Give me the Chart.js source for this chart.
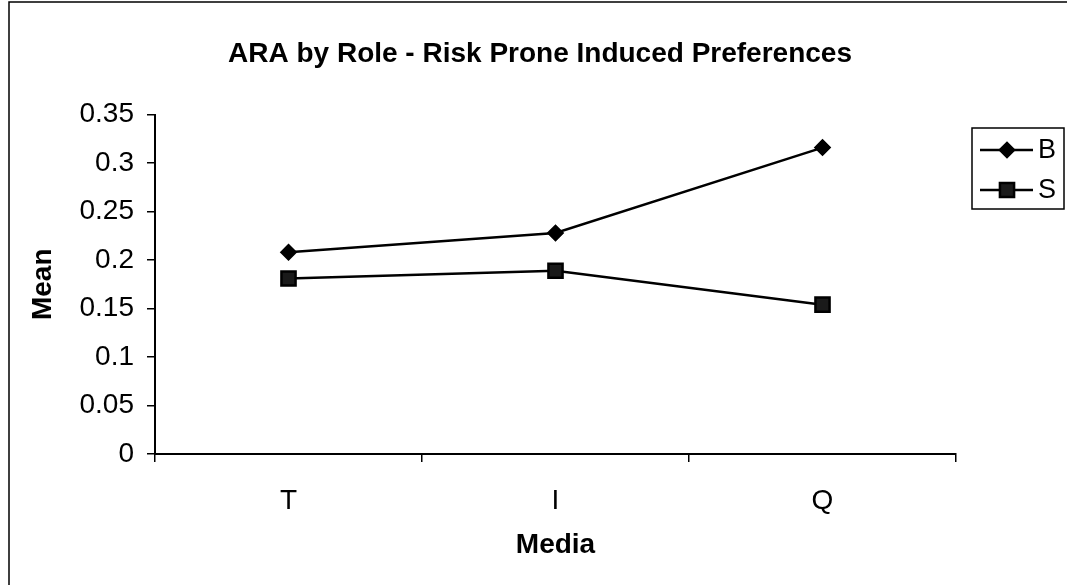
<!DOCTYPE html>
<html>
<head>
<meta charset="utf-8">
<title>ARA by Role</title>
<script src="https://cdn.jsdelivr.net/npm/chart.js@4"></script>
<style>
    html, body {margin: 0; padding: 0; background: #fff;}
    canvas {display: block;}
</style>
</head>
<body>
<canvas id="myChart" width="1067" height="585"></canvas>
<script>
const media = ['T', 'I', 'Q'];
const meanB = [0.208, 0.228, 0.316];
const meanS = [0.181, 0.189, 0.154];
const yMin = 0, yMax = 0.35, yStep = 0.05;

const FONT = '"Liberation Sans", Arial, sans-serif';

// Excel-like legend box at the right, plus the outer frame of the chart
const sideLegend = {
    id: 'sideLegend',
    afterDraw(chart) {
        const c = chart.ctx;
        c.save();
        c.strokeStyle = '#000';

        // outer frame
        c.lineWidth = 1.5;
        c.beginPath();
        c.moveTo(9, 585);
        c.lineTo(9, 2);
        c.lineTo(1067, 2);
        c.stroke();

        // legend box
        c.lineWidth = 1.5;
        c.strokeRect(972, 128, 92, 81);

        chart.data.datasets.forEach(function (ds, i) {
            const y = 150 + i * 40;
            c.lineWidth = ds.borderWidth;
            c.beginPath();
            c.moveTo(980, y);
            c.lineTo(1033, y);
            c.stroke();
            c.fillStyle = ds.pointBackgroundColor;
            c.strokeStyle = ds.pointBorderColor;
            Chart.helpers.drawPoint(c, {pointStyle: ds.pointStyle, radius: ds.pointRadius, borderWidth: 1}, 1007, y);
            c.strokeStyle = '#000';
            c.fillStyle = '#000';
            c.font = '27px ' + FONT;
            c.textBaseline = 'middle';
            c.textAlign = 'left';
            c.fillText(ds.label, 1038, y + 1);
        });
        c.restore();
    }
};

const ctx = document.getElementById('myChart');
let myChart = new Chart(ctx, {
    type: 'line',
    plugins: [sideLegend],
    data: {
        labels: media,
        datasets: [
            {
                label: 'B',
                data: meanB,
                borderColor: '#000',
                borderWidth: 2.5,
                pointStyle: 'rectRot',
                pointRadius: 7,
                pointBackgroundColor: '#000',
                pointBorderColor: '#000',
                tension: 0
            },
            {
                label: 'S',
                data: meanS,
                borderColor: '#000',
                borderWidth: 2.5,
                pointStyle: 'rect',
                pointRadius: 10,
                pointBackgroundColor: '#1a1a1a',
                pointBorderColor: '#000',
                tension: 0
            }
        ]
    },
    options: {
        responsive: false,
        animation: false,
        layout: {padding: {left: 13, right: 0, top: 0, bottom: 0}},
        plugins: {
            legend: {display: false},
            tooltip: {enabled: false},
            title: {
                display: true,
                text: 'ARA by Role - Risk Prone Induced Preferences',
                color: '#000',
                font: {family: FONT, size: 28, weight: 'bold'},
                padding: {top: 37, bottom: 44}
            }
        },
        scales: {
            x: {
                offset: true,
                grid: {drawOnChartArea: false, drawTicks: true, tickLength: 8, offset: true, color: '#000', lineWidth: 1.5},
                border: {display: true, color: '#000', width: 2},
                ticks: {color: '#000', padding: 22, font: {family: FONT, size: 28}},
                title: {
                    display: true,
                    text: 'Media',
                    color: '#000',
                    font: {family: FONT, size: 28, weight: 'bold'},
                    padding: {top: 0, bottom: 23}
                },
                afterFit: function (scale) {
                    scale.height = 131;
                }
            },
            y: {
                min: yMin,
                max: yMax,
                grid: {drawOnChartArea: false, drawTicks: true, tickLength: 8, color: '#000', lineWidth: 1.5},
                border: {display: true, color: '#000', width: 2},
                ticks: {
                    stepSize: yStep,
                    color: '#000',
                    padding: 13,
                    font: {family: FONT, size: 28},
                    callback: function (v) {
                        return String(parseFloat(v.toFixed(2)));
                    }
                },
                title: {
                    display: true,
                    text: 'Mean',
                    color: '#000',
                    font: {family: FONT, size: 28, weight: 'bold'},
                    padding: {top: 13, bottom: 0}
                },
                afterFit: function (scale) {
                    scale.width = 142;
                }
            },
            // empty right-hand strip that holds the legend box
            side: {
                type: 'linear',
                position: 'right',
                grid: {display: false},
                border: {display: false},
                ticks: {display: false},
                afterFit: function (scale) {
                    scale.width = 111;
                }
            }
        }
    }
});
</script>
</body>
</html>
